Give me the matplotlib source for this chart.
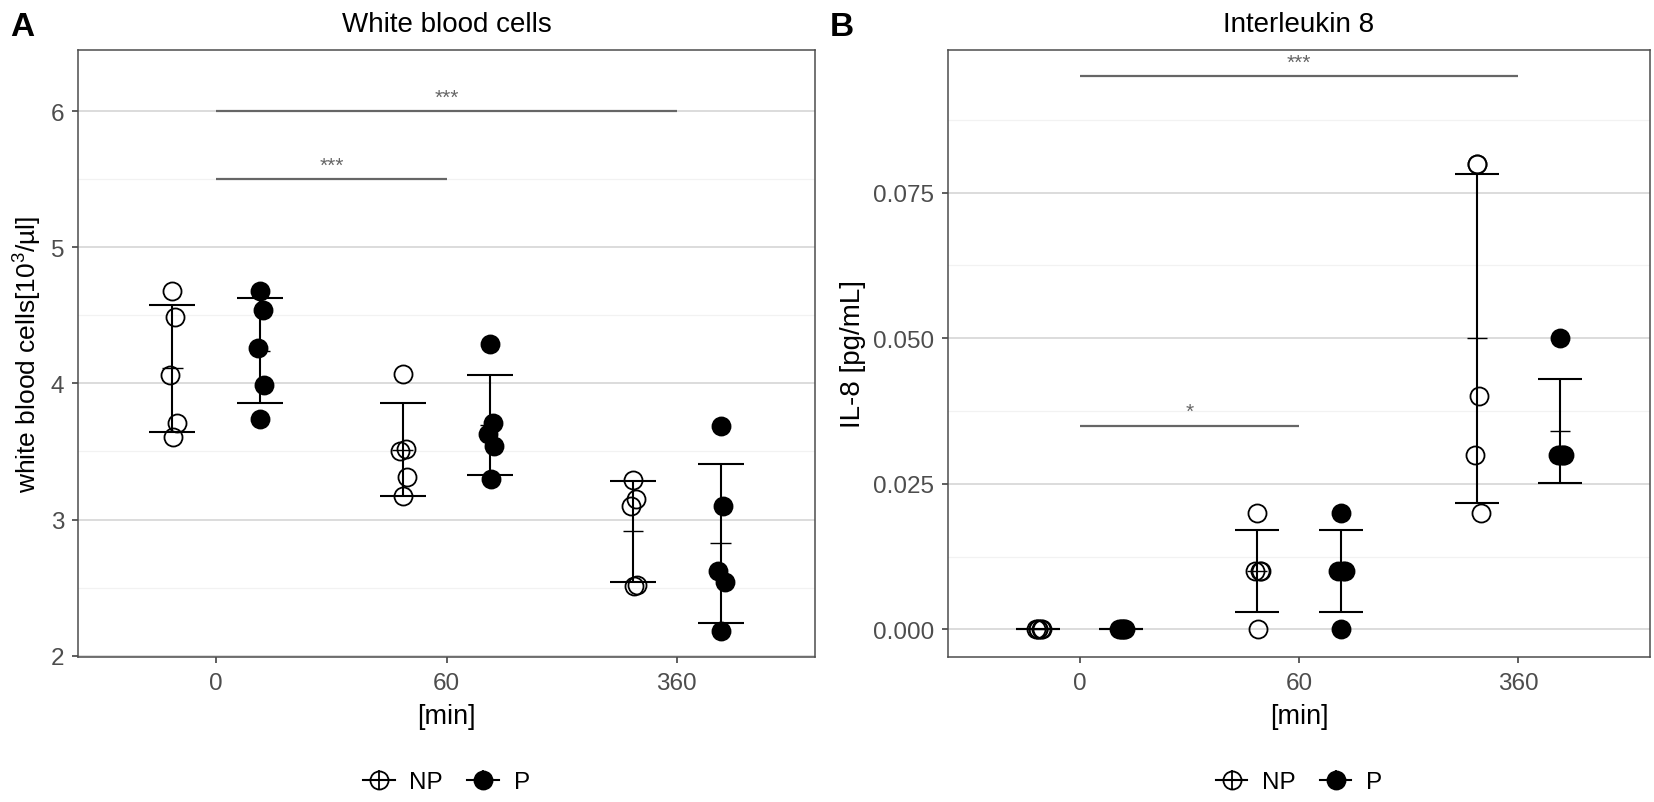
import numpy as np
import matplotlib
matplotlib.use("Agg")
import matplotlib.pyplot as plt
from matplotlib.lines import Line2D
from matplotlib.ticker import MultipleLocator, FormatStrFormatter

plt.rcParams['font.family'] = ['Liberation Sans', 'DejaVu Sans']
plt.rcParams['mathtext.fontset'] = 'custom'
plt.rcParams['mathtext.rm'] = 'Liberation Sans'
plt.rcParams['mathtext.it'] = 'Liberation Sans:italic'

# time points (categorical x axis)
times = ['0', '60', '360']

# white blood cells [10^3/ul], 5 subjects per group
wbc_np = [[4.68, 4.49, 4.06, 3.71, 3.61],
          [4.07, 3.52, 3.50, 3.31, 3.17],
          [3.29, 3.15, 3.10, 2.52, 2.51]]
wbc_p = [[4.68, 4.54, 4.26, 3.99, 3.74],
         [4.29, 3.71, 3.63, 3.54, 3.30],
         [3.69, 3.10, 2.62, 2.54, 2.18]]

# interleukin 8 [pg/mL]
il8_np = [[0.0, 0.0, 0.0, 0.0, 0.0],
          [0.02, 0.01, 0.01, 0.01, 0.0],
          [0.08, 0.04, 0.03, 0.02, 0.08]]
il8_p = [[0.0, 0.0, 0.0, 0.0, 0.0],
         [0.02, 0.01, 0.01, 0.01, 0.0],
         [0.05, 0.03, 0.03, 0.03, 0.03]]

# significance brackets: (from group, to group, height, label)
sig_wbc = [(0, 2, 6.0, '***'), (0, 1, 5.5, '***')]
sig_il8 = [(0, 2, 0.095, '***'), (0, 1, 0.035, '*')]

# small horizontal spread of the points within a group
jitter = [0.0, 0.012, -0.01, 0.018, 0.002]
dodge = 0.19

TICK_COL = '#4d4d4d'
BORDER_COL = '#4d4d4d'


def draw_group(ax, pos, values, filled):
    vals = np.array(values)
    m = vals.mean()
    sd = vals.std(ddof=1)
    xs = pos + np.array(jitter)
    ax.plot(xs, vals, 'o', ms=13, mfc='black' if filled else 'none',
            mec='black', mew=1.3, zorder=3)
    ax.vlines(pos, m - sd, m + sd, color='black', lw=1.5, zorder=4)
    ax.hlines([m - sd, m + sd], pos - 0.1, pos + 0.1, color='black', lw=1.5, zorder=4)
    ax.hlines(m, pos - 0.045, pos + 0.045, color='black', lw=1.0, zorder=4)


def setup_panel(ax, data_np, data_p, sigs, title, ylabel, ylab_size, ylim, major, minor, fmt):
    for i in range(len(times)):
        draw_group(ax, i - dodge, data_np[i], False)
        draw_group(ax, i + dodge, data_p[i], True)

    for a, b, h, lab in sigs:
        ax.hlines(h, a, b, color='#666666', lw=1.6, zorder=2)
        ax.annotate(lab, xy=((a + b) / 2, h), xytext=(0, 6), textcoords='offset points',
                    ha='center', va='baseline', fontsize=15, color='#666666')

    ax.set_xlim(-0.6, len(times) - 0.4)
    ax.set_ylim(*ylim)
    ax.set_xticks(range(len(times)))
    ax.set_xticklabels(times)
    ax.yaxis.set_major_locator(MultipleLocator(major))
    ax.yaxis.set_minor_locator(MultipleLocator(minor))
    if fmt:
        ax.yaxis.set_major_formatter(FormatStrFormatter(fmt))

    ax.grid(axis='y', which='major', color='#dcdcdc', lw=1.4, zorder=0)
    ax.grid(axis='y', which='minor', color='#f2f2f2', lw=0.9, zorder=0)
    ax.set_axisbelow(True)
    for s in ax.spines.values():
        s.set_color(BORDER_COL)
        s.set_linewidth(1.1)
    ax.tick_params(which='major', length=4.5, width=1.1, color='#333333',
                   labelcolor=TICK_COL, labelsize=17.5)
    ax.tick_params(axis='x', which='major', pad=6)
    ax.tick_params(axis='y', which='major', pad=5.5)
    ax.tick_params(which='minor', length=0)

    ax.set_title(title, fontsize=20, pad=14)
    ax.set_xlabel('[min]', fontsize=19.5, labelpad=7)
    ax.set_ylabel(ylabel, fontsize=ylab_size, labelpad=5)

    h_np = (Line2D([], [], color='black', lw=1.5, marker='o', ms=13, mfc='none', mew=1.3),
            Line2D([], [], color='black', lw=0, marker='|', ms=15, mew=1.3))
    h_p = (Line2D([], [], color='black', lw=1.5, marker='o', ms=13, mfc='black', mew=1.3),
           Line2D([], [], color='black', lw=0, marker='|', ms=15, mew=1.3))
    ax.legend([h_np, h_p], ['NP', 'P'], loc='center', bbox_to_anchor=(0.5, -0.206),
              ncol=2, frameon=False, fontsize=17.5, handlelength=1.3,
              columnspacing=1.0, handletextpad=0.6)


fig = plt.figure(figsize=(16.54, 8.03), dpi=100)
ax_a = fig.add_axes([78 / 1654, 1 - 658 / 803, 737 / 1654, 607 / 803])
ax_b = fig.add_axes([948 / 1654, 1 - 658 / 803, 702 / 1654, 607 / 803])

setup_panel(ax_a, wbc_np, wbc_p, sig_wbc, 'White blood cells',
            'white blood cells[10$^{3}$/µl]', 19, (1.99, 6.45), 1, 0.5, None)
setup_panel(ax_b, il8_np, il8_p, sig_il8, 'Interleukin 8',
            'IL-8 [pg/mL]', 20, (-0.00475, 0.0995), 0.025, 0.0125, '%.3f')

fig.text(10 / 1654, 1 - 36 / 803, 'A', fontsize=24, fontweight='bold', va='baseline', ha='left')
fig.text(830 / 1654, 1 - 36 / 803, 'B', fontsize=24, fontweight='bold', va='baseline', ha='left')

fig.savefig('out.png', dpi=100)
